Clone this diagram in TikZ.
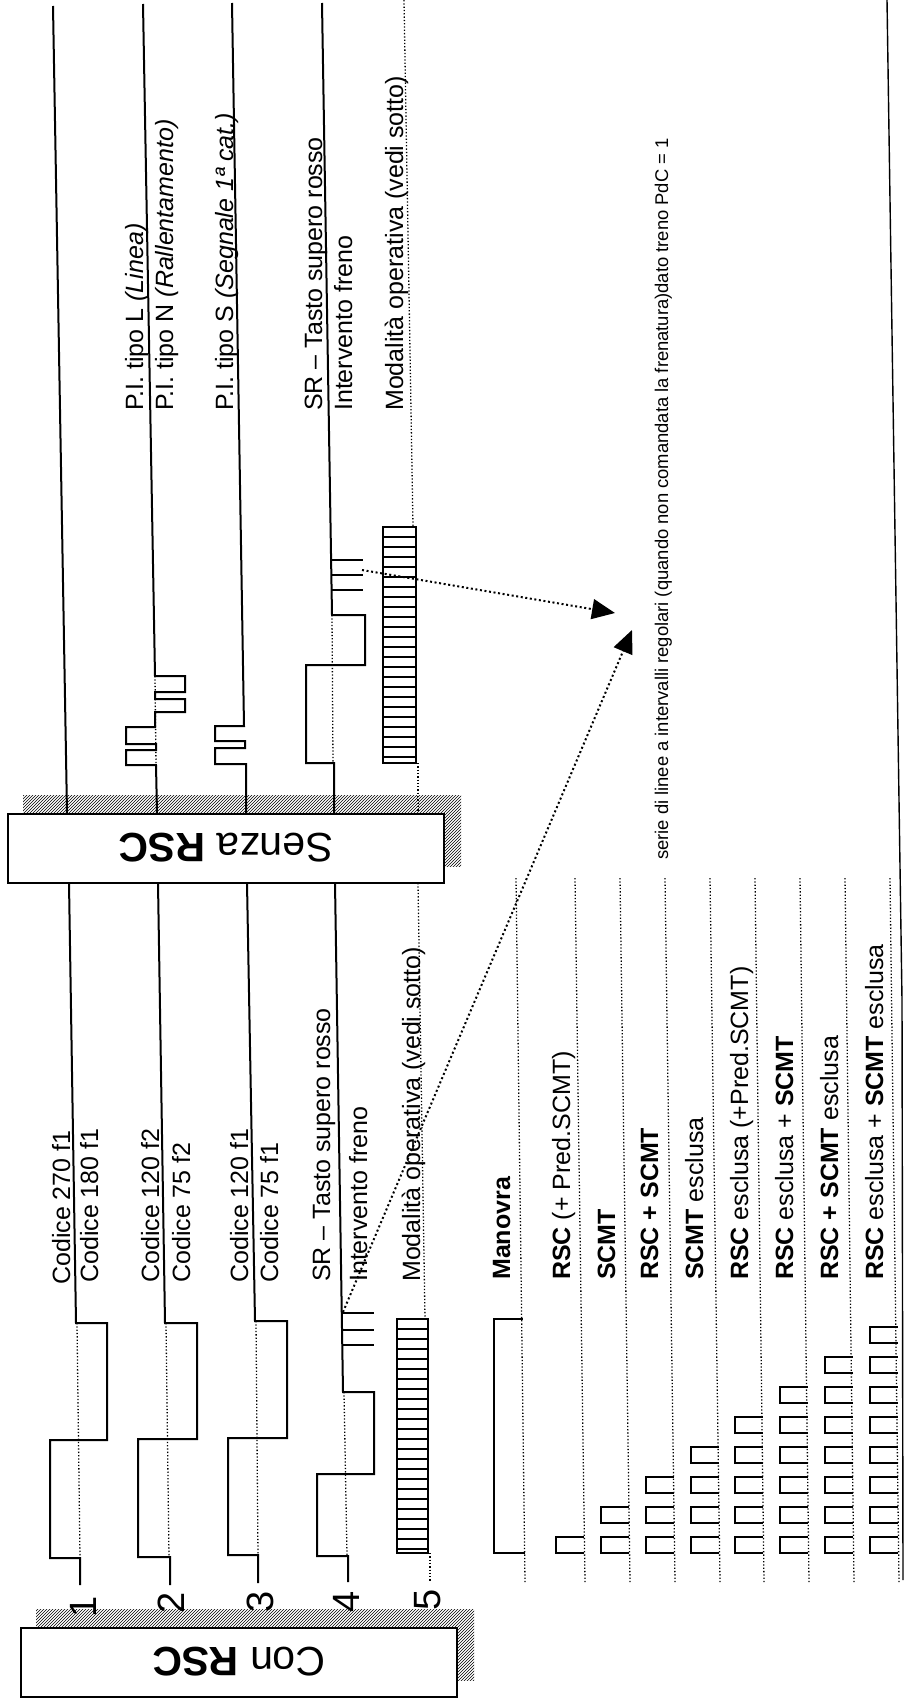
\documentclass[tikz,border=0pt]{standalone}
\usepackage{fontspec}
\setmainfont{Liberation Sans}
\usetikzlibrary{arrows.meta, patterns, backgrounds}
\tikzset{
	track/.style={draw, line width=2pt},
	base/.style={draw, dotted, line width=1.3pt},
	tick/.style={draw, line width=1.6pt},
	rung/.style={draw, line width=1.3pt},
	pulse/.style={draw, line width=2pt},
	lbl/.style={rotate=90, anchor=base west, inner sep=0pt, font=\fontsize{25}{30}\selectfont},
	note/.style={lbl, font=\fontsize{18.4}{22}\selectfont},
	num/.style={rotate=90, inner sep=0pt, font=\fontsize{38}{44}\selectfont},
	rscbox/.style={draw, fill=white, line width=2pt, rotate=180, minimum width=436pt,
		minimum height=69pt, inner sep=0pt, font=\fontsize{41}{48}\selectfont},
	hatch/.style={pattern=north east lines, pattern color=black},
	link/.style={draw, line width=2pt, dash pattern=on 2pt off 2.6pt,
		-{Triangle[length=23pt, width=20pt]}}
}
\begin{document}
\begin{tikzpicture}[x=1pt, y=-1pt]
	\useasboundingbox (0,0) rectangle (904,1704);
	
	% Boxes
	\node[rscbox] (senza) at (226,848) {Senza \textbf{RSC}};
	\node[rscbox] (con) at (239,1662) {Con \textbf{RSC}};
	\begin{scope}[on background layer]
		\fill[hatch] ([xshift=16pt, yshift=17pt]senza.north west) rectangle ([xshift=16pt, yshift=17pt]senza.south east);
		\fill[hatch] ([xshift=16pt, yshift=17pt]con.north west) rectangle ([xshift=16pt, yshift=17pt]con.south east);
	\end{scope}
	
	% Senza RSC tracks
	\draw[track] (53,6) -- (67,813);
	\draw[track] (143,4) -- (155,676) -- (185,676) -- (185,692) -- (155,692) -- (155,699)
		-- (185,699) -- (185,712) -- (155,712) -- (155,727) -- (126,727) -- (126,744)
		-- (156,744) -- (156,750) -- (126,750) -- (126,765) -- (156,765) -- (157,813);
	\draw[base] (155,676) -- (156,765);
	\draw[track] (232,3) -- (244,726) -- (215,726) -- (215,741) -- (245,741) -- (245,748)
		-- (215,748) -- (215,764) -- (246,764) -- (246,813);
	\draw[track] (322,3) -- (332,615) -- (365,615) -- (365,665) -- (306,665) -- (306,763)
		-- (334,763) -- (334,813);
	\draw[base] (332,615) -- (333,763);
	\foreach \y in {560,575,590}
		\draw[tick] (332,\y) -- (363,\y);
	\draw[base] (404,0) -- (413,527);
	\draw[track] (383,527) rectangle (416,763);
	\foreach \y in {537,547,...,757}
		\draw[rung] (383,\y) -- (416,\y);
	\draw[base] (418,763) -- (418,813);
	
	% Con RSC tracks
	\draw[track] (69,883) -- (76,1323) -- (107,1323) -- (107,1440) -- (50,1440) -- (50,1558)
		-- (80,1558) -- (80,1585);
	\draw[base] (77,1323) -- (80,1558);
	\draw[track] (158,883) -- (165,1323) -- (197,1323) -- (197,1439) -- (138,1439) -- (138,1557)
		-- (170,1557) -- (170,1585);
	\draw[base] (166,1323) -- (169,1557);
	\draw[track] (247,883) -- (255,1321) -- (287,1321) -- (287,1438) -- (228,1438) -- (228,1555)
		-- (258,1555) -- (258,1583);
	\draw[base] (256,1321) -- (258,1555);
	\draw[track] (335,883) -- (343,1392) -- (374,1392) -- (374,1474) -- (317,1474) -- (317,1556)
		-- (348,1556) -- (348,1582);
	\draw[base] (344,1392) -- (347,1556);
	\foreach \y in {1313,1330,1345}
		\draw[tick] (342,\y) -- (374,\y);
	\draw[base] (418,883) -- (425,1319);
	\draw[track] (397,1319) rectangle (428,1553);
	\foreach \y in {1329,1339,...,1549}
		\draw[rung] (397,\y) -- (428,\y);
	\draw[base] (430,1553) -- (430,1582);
	
	% Track numbers
	\foreach \i/\x/\y in {1/83/1607, 2/171/1603, 3/260/1602, 4/346/1602, 5/428/1600}
		\node[num] (n-\i) at (\x,\y) {\i};
	
	% Labels Senza RSC
	\node[lbl] (pil) at (143,411) {P.I. tipo L \textit{(Linea)}};
	\node[lbl] (pin) at (173,411) {P.I. tipo N \textit{(Rallentamento)}};
	\node[lbl] (pis) at (233,411) {P.I. tipo S \textit{(Segnale 1ª cat.)}};
	\node[lbl] (sr-s) at (322,411) {SR – Tasto supero rosso};
	\node[lbl] (ifr-s) at (352,411) {Intervento freno};
	\node[lbl] (mod-s) at (403,411) {Modalità operativa (vedi sotto)};
	
	% Labels Con RSC
	\node[lbl] (c270) at (70,1285) {Codice 270 f1};
	\node[lbl] (c180) at (98,1283) {Codice 180 f1};
	\node[lbl] (c120b) at (159,1283) {Codice 120 f2};
	\node[lbl] (c75b) at (190,1283) {Codice 75 f2};
	\node[lbl] (c120a) at (248,1283) {Codice 120 f1};
	\node[lbl] (c75a) at (278,1283) {Codice 75 f1};
	\node[lbl] (sr-c) at (330,1282) {SR – Tasto supero rosso};
	\node[lbl] (ifr-c) at (367,1282) {Intervento freno};
	\node[lbl] (mod-c) at (420,1282) {Modalità operativa (vedi sotto)};
	
	% Note and arrows
	\node[note] (serie) at (668,860) {serie di linee a intervalli regolari (quando non comandata la frenatura)dato treno PdC = 1};
	\coordinate (brk-s) at (362,570);
	\coordinate (brk-c) at (343,1312);
	\coordinate (tip-s) at (615,613);
	\coordinate (tip-c) at (632,630);
	\draw[link] (brk-s) -- (tip-s);
	\draw[link] (brk-c) -- (tip-c);
	
	% Right border
	\draw[track, line width=1.4pt] (887,0) -- (902,1000) -- (903,1580);
	
	% Operating modes
	\foreach \xt/\xb in {516/525, 575/585, 620/630, 665/675, 710/720, 755/764, 800/809, 845/854, 890/899}
		\draw[base] (\xt,878) -- (\xb,1582);
	\draw[pulse] (525,1553) -- (494,1553) -- (494,1319) -- (523,1319);
	\foreach \xd [count=\k] in {584,629,674,719,763,808,853,898}
		\foreach \j in {1,...,\k}
			\draw[pulse] (\xd,{1553-30*(\j-1)}) -- ++(-28,0) -- ++(0,-16) -- ++(28,0);
	
	\node[lbl] (m1) at (510,1280) {\textbf{Manovra}};
	\node[lbl] (m2) at (570,1280) {\textbf{RSC} (+ Pred.SCMT)};
	\node[lbl] (m3) at (615,1280) {\textbf{SCMT}};
	\node[lbl] (m4) at (658,1280) {\textbf{RSC + SCMT}};
	\node[lbl] (m5) at (703,1280) {\textbf{SCMT} esclusa};
	\node[lbl] (m6) at (748,1280) {\textbf{RSC} esclusa (+Pred.SCMT)};
	\node[lbl] (m7) at (793,1280) {\textbf{RSC} esclusa + \textbf{SCMT}};
	\node[lbl] (m8) at (838,1280) {\textbf{RSC + SCMT} esclusa};
	\node[lbl] (m9) at (883,1280) {\textbf{RSC} esclusa + \textbf{SCMT} esclusa};
\end{tikzpicture}
\end{document}
